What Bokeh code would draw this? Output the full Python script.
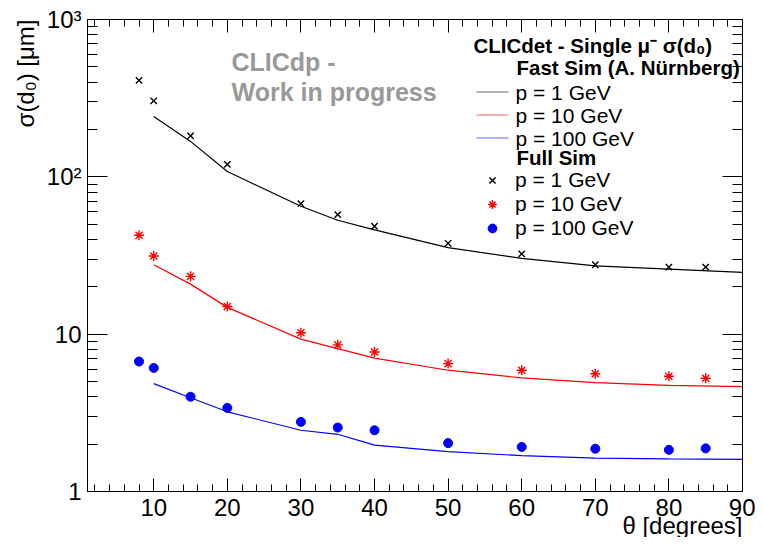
from bokeh.plotting import figure
from bokeh.models import (Range1d, LinearAxis, LogAxis, FixedTicker, SingleIntervalTicker,
                          Label, Legend, LegendItem, CustomJSTickFormatter, BoxAnnotation, Title)
from bokeh.embed import file_html
from bokeh.resources import INLINE

# ---- data ----
theta_full = [8, 10, 15, 20, 30, 35, 40, 50, 60, 70, 80, 85]
full_1GeV = [410, 304, 182, 120, 67.5, 57.5, 48.5, 37.8, 32.4, 27.6, 26.7, 26.7]
full_10GeV = [42.5, 31.4, 23.3, 15.0, 10.2, 8.55, 7.7, 6.5, 5.9, 5.6, 5.4, 5.25]
full_100GeV = [6.7, 6.1, 4.0, 3.4, 2.77, 2.55, 2.45, 2.03, 1.92, 1.87, 1.84, 1.88]

theta_fast = [10, 15, 20, 30, 35, 40, 50, 60, 70, 80, 90]
fast_1GeV = [242, 168, 108, 65, 53, 46, 35.5, 30.3, 27.2, 25.9, 24.7]
fast_10GeV = [27.6, 20.8, 14.8, 9.3, 8.1, 7.05, 5.9, 5.27, 4.92, 4.73, 4.64]
fast_100GeV = [4.85, 3.94, 3.21, 2.45, 2.31, 1.97, 1.79, 1.69, 1.63, 1.61, 1.60]

labels_p = ["p = 1 GeV", "p = 10 GeV", "p = 100 GeV"]
y_major = [1, 10, 100, 1000]
y_major_labels = {1: "1", 10: "10", 100: "10\u00b2", 1000: "10\u00b3"}

FONT = "Liberation Sans"
colors = ["black", "red", "blue"]

p = figure(width=755, height=537, x_range=Range1d(1, 90), y_range=Range1d(1, 1000),
           y_axis_type="log", output_backend="svg", toolbar_location=None,
           min_border_left=87, min_border_right=13, min_border_top=19, min_border_bottom=46)
p.grid.visible = False
p.outline_line_color = "black"
p.outline_line_width = 1
p.background_fill_color = "white"
p.border_fill_color = "white"

y_minor = [m * d for d in (1, 10, 100) for m in range(2, 10)]
yticker = FixedTicker(ticks=y_major, minor_ticks=y_minor)
xticker = SingleIntervalTicker(interval=10, num_minor_ticks=5)

# bottom / left axes
xa = p.xaxis[0]
xa.ticker = xticker
ya = p.yaxis[0]
ya.ticker = yticker
ya.major_label_overrides = y_major_labels
for ax in (xa, ya):
    ax.major_label_text_font = FONT
    ax.major_label_text_font_size = "24px"
    ax.major_label_text_color = "black"
    ax.axis_line_color = "black"
    ax.major_tick_line_color = "black"
    ax.minor_tick_line_color = "black"
    ax.major_tick_out = 0
    ax.minor_tick_out = 0
xa.major_tick_in = 13
xa.minor_tick_in = 7
xa.major_label_standoff = 7
ya.major_tick_in = 20
ya.minor_tick_in = 10
ya.major_label_standoff = 6

# axis titles, ROOT style (right / top aligned)
title_style = dict(text_font=FONT, text_font_size="24px", text_font_style="normal",
                   text_color="black", align="right")
p.add_layout(Title(text="\u03b8 [degrees]", vertical_align="top", standoff=-14, **title_style), "below")
p.add_layout(Title(text="\u03c3(d\u2080) [\u03bcm]", standoff=10, **title_style), "left")

# mirrored top / right axes (ticks only)
blank = CustomJSTickFormatter(code="return ''")
top = LinearAxis(ticker=xticker, formatter=blank)
right = LogAxis(ticker=yticker, formatter=blank)
for ax in (top, right):
    ax.major_label_standoff = 0
    ax.major_label_text_font_size = "1px"
    ax.axis_line_color = "black"
    ax.major_tick_out = 0
    ax.minor_tick_out = 0
top.major_tick_in = 13
top.minor_tick_in = 7
right.major_tick_in = 20
right.minor_tick_in = 10
p.add_layout(top, "above")
p.add_layout(right, "right")

# ---- fast sim lines ----
fast_series = [fast_1GeV, fast_10GeV, fast_100GeV]
for ys, c in zip(fast_series, colors):
    p.line(theta_fast, ys, line_color=c, line_width=1.2)

# ---- full sim markers ----
r1 = p.scatter(theta_full, full_1GeV, marker="x", size=9, line_color="black", line_width=1.4)
r2 = p.scatter(theta_full, full_10GeV, marker="asterisk", size=10, line_color="red", line_width=1.4)
r3 = p.scatter(theta_full, full_100GeV, marker="circle", size=9, fill_color="blue", line_color="blue")
mark_rs = [r1, r2, r3]

leg_style = dict(label_text_font=FONT, label_text_font_size="21px", label_text_color="black",
                 glyph_width=32, glyph_height=22, label_height=22, label_standoff=7,
                 spacing=0, padding=0, margin=0, background_fill_alpha=0,
                 border_line_alpha=0)
leg_full = Legend(items=[LegendItem(label=l, renderers=[r]) for l, r in zip(labels_p, mark_rs)],
                  location=(389, 251), **leg_style)
p.add_layout(leg_full)

def lab(text, x, y, size, style="normal", color="black", align="left"):
    p.add_layout(Label(x=x, y=y, x_units="screen", y_units="screen", text=text,
                       text_font=FONT, text_font_size=size, text_font_style=style,
                       text_color=color, text_align=align, text_baseline="middle"))

# fast-sim legend block (line samples + texts)
fast_rows_y = [399.5, 376.5, 353.5]
for lbl, c, yy in zip(labels_p, colors, fast_rows_y):
    p.add_layout(BoxAnnotation(left=389, right=421, bottom=yy, top=yy,
                               left_units="screen", right_units="screen",
                               bottom_units="screen", top_units="screen",
                               fill_alpha=0, line_color=c, line_width=1.8))
    lab(lbl, 428, yy, "21px")

lab("CLICdet - Single \u03bc\u207b \u03c3(d\u2080)", 386, 446, "20.5px", "bold")
lab("Fast Sim (A. N\u00fcrnberg)", 429, 424, "20.5px", "bold")
lab("Full Sim", 429, 334, "20.5px", "bold")
lab("CLICdp -", 144, 430, "25px", "bold", "#999999")
lab("Work in progress", 144, 400, "25px", "bold", "#999999")

open("out.html", "w").write(file_html(p, INLINE))
